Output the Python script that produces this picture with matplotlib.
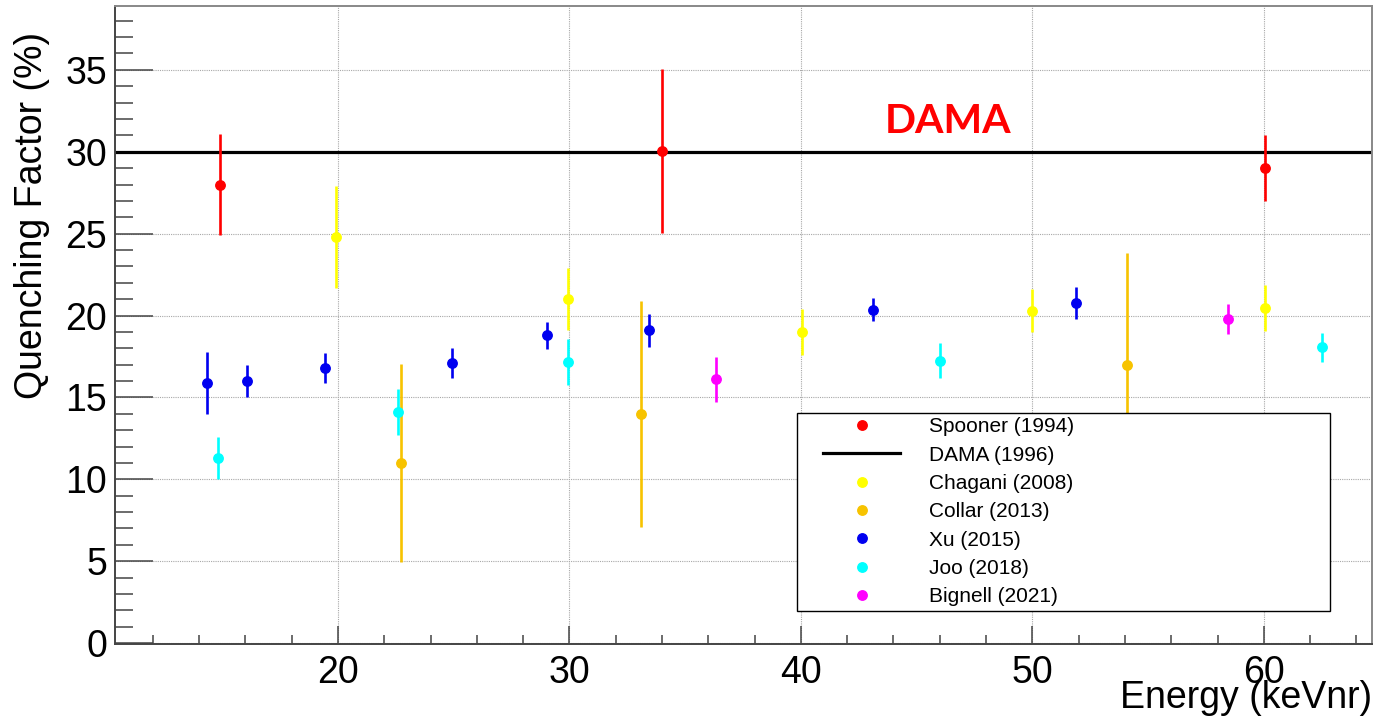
import numpy as np
import matplotlib
matplotlib.use('Agg')
import matplotlib.pyplot as plt
from matplotlib.lines import Line2D
from matplotlib.legend_handler import HandlerLine2D
from matplotlib.ticker import MultipleLocator

plt.rcParams['font.family'] = ['Liberation Sans', 'DejaVu Sans']

# quenching factor measurements (energy keVnr, QF %, error)
spooner_x = [14.9, 34.0, 60.07]
spooner_y = [28.0, 30.05, 29.0]
spooner_err = [3.1, 5.0, 2.0]

chagani_x = [19.93, 29.95, 40.05, 50.0, 60.07]
chagani_y = [24.8, 21.0, 19.0, 20.3, 20.45]
chagani_err = [3.1, 1.9, 1.4, 1.3, 1.4]

collar_x = [22.73, 33.1, 54.1]
collar_y = [11.0, 14.0, 17.0]
collar_err = [6.05, 6.9, 6.8]

xu_x = [14.33, 16.07, 19.42, 24.93, 29.02, 33.44, 43.1, 51.9]
xu_y = [15.9, 16.0, 16.8, 17.1, 18.8, 19.1, 20.35, 20.77]
xu_err = [1.9, 1.0, 0.93, 0.93, 0.82, 1.0, 0.71, 1.0]

joo_x = [14.83, 22.61, 29.95, 46.03, 62.52]
joo_y = [11.3, 14.1, 17.15, 17.25, 18.05]
joo_err = [1.3, 1.4, 1.4, 1.05, 0.9]

bignell_x = [36.34, 58.43]
bignell_y = [16.1, 19.8]
bignell_err = [1.4, 0.9]

dama_qf = 30.0

series = [
    ('Spooner (1994)', spooner_x, spooner_y, spooner_err, '#ff0000'),
    ('Chagani (2008)', chagani_x, chagani_y, chagani_err, '#ffff00'),
    ('Collar (2013)', collar_x, collar_y, collar_err, '#f7c300'),
    ('Xu (2015)', xu_x, xu_y, xu_err, '#0000f0'),
    ('Joo (2018)', joo_x, joo_y, joo_err, '#00ffff'),
    ('Bignell (2021)', bignell_x, bignell_y, bignell_err, '#ff00ff'),
]


class ShortLine(HandlerLine2D):
    # draws the legend line shorter than the handle box, centred
    def create_artists(self, legend, orig_handle, xdescent, ydescent,
                       width, height, fontsize, trans):
        return super().create_artists(legend, orig_handle,
                                      xdescent - 0.18*width, ydescent,
                                      0.63*width, height, fontsize, trans)


fig = plt.figure(figsize=(13.79, 7.27), dpi=100)
ax = fig.add_axes([0.0834, 0.1142, 0.9115, 0.8776])

handles = {}
for name, x, y, err, col in series:
    eb = ax.errorbar(x, y, yerr=err, fmt='o', color=col, ms=6.8,
                     elinewidth=1.9, capsize=0, zorder=3)
    handles[name] = eb[0]

dama_line = ax.axhline(dama_qf, color='black', lw=2.3, zorder=2)
handles['DAMA (1996)'] = dama_line

ax.text(46.35, 31.15, 'DAMA', color='#ff0000', fontsize=29.5,
        fontweight='bold', family='Lato', ha='center', va='baseline')

ax.set_xlim(10.37, 64.67)
ax.set_ylim(-0.05, 38.9)

ax.xaxis.set_major_locator(MultipleLocator(10))
ax.xaxis.set_minor_locator(MultipleLocator(2))
ax.yaxis.set_major_locator(MultipleLocator(5))
ax.yaxis.set_minor_locator(MultipleLocator(1))

ax.set_axisbelow(True)
ax.grid(True, which='major', color='#a8a8a8', lw=0.8, ls=(0, (1, 1)))

ax.tick_params(axis='both', which='both', direction='in', colors='#444444',
               labelcolor='black', labelsize=27, top=False, right=False)
ax.tick_params(axis='y', which='major', length=27, width=1.1, pad=5.5)
ax.tick_params(axis='y', which='minor', length=13, width=1.1)
ax.tick_params(axis='x', which='major', length=13, width=1.1, pad=8)
ax.tick_params(axis='x', which='minor', length=6.5, width=1.1)

for s in ['left', 'bottom']:
    ax.spines[s].set_color('#444444')
    ax.spines[s].set_linewidth(1.4)
for s in ['top', 'right']:
    ax.spines[s].set_color('#888888')
    ax.spines[s].set_linewidth(1.4)

ax.set_xlabel('Energy (keVnr)', fontsize=27, ha='right', va='baseline')
ax.xaxis.set_label_coords(1.0, -0.1003)
ax.set_ylabel('Quenching Factor (%)', fontsize=27, ha='right', va='baseline')
ax.yaxis.set_label_coords(-0.0581, 0.959)

order = ['Spooner (1994)', 'DAMA (1996)', 'Chagani (2008)', 'Collar (2013)',
         'Xu (2015)', 'Joo (2018)', 'Bignell (2021)']
leg = ax.legend([handles[k] for k in order], order,
                loc='upper left', bbox_to_anchor=(0.5426, 0.0517, 0.4240, 0.3103),
                mode='expand', borderaxespad=0, fontsize=15, numpoints=1,
                handlelength=5.85, handletextpad=0.3, borderpad=0.2,
                labelspacing=0.45, fancybox=False, framealpha=1,
                edgecolor='black', handler_map={dama_line: ShortLine()})
leg.get_frame().set_linewidth(1.0)
leg.set_zorder(10)

fig.savefig('out.png', dpi=100)
